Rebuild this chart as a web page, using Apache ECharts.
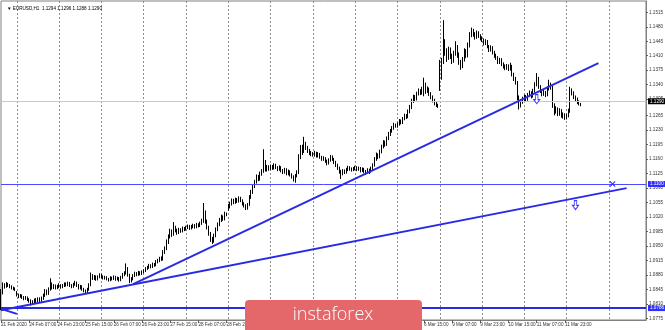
<!DOCTYPE html>
<html><head><meta charset="utf-8">
<script src="https://cdn.jsdelivr.net/npm/echarts@6/dist/echarts.min.js"></script>
<style>html,body{margin:0;padding:0;background:#fff}#c{width:665px;height:330px}</style>
</head><body><div id="c"></div>
<script>
// EURUSD H1, one bar per hour from 21 Feb 2020 15:00 to 12 Mar 2020 08:00
const opens = [
1.0800,1.0838,1.0855,1.0852,1.0858,1.0855,1.0851,1.0849,1.0847,
1.0838,1.0832,1.0828,1.0830,1.0826,1.0823,1.0825,1.0821,1.0818,1.0812,1.0815,1.0819,1.0816,1.0822,1.0818,1.0824,1.0830,1.0840,1.0836,1.0845,1.0858,1.0850,1.0853,1.0849,
1.0852,1.0855,1.0851,1.0854,1.0858,1.0856,1.0860,1.0855,1.0852,1.0857,1.0861,1.0855,1.0849,1.0852,1.0846,1.0842,1.0838,1.0845,1.0856,1.0878,1.0872,1.0876,1.0870,1.0875,
1.0879,1.0876,1.0872,1.0874,1.0870,1.0868,1.0873,1.0871,1.0875,1.0870,1.0872,1.0868,1.0874,1.0880,1.0884,1.0896,1.0880,1.0866,1.0870,1.0878,1.0884,1.0881,1.0886,1.0883,
1.0887,1.0890,1.0895,1.0898,1.0903,1.0900,1.0906,1.0904,1.0912,1.0915,1.0920,1.0918,1.0935,1.0943,1.0960,1.0972,1.0985,1.0978,1.0995,1.0988,1.0982,1.0990,1.0986,1.0993,
1.0990,1.0995,1.0998,1.0993,1.0997,1.1000,1.0996,1.1002,1.0999,1.1005,1.1010,1.1030,1.1010,1.0995,1.0980,1.0968,1.0962,1.0975,1.0990,1.1002,1.1012,1.1020,1.1015,1.1028,
1.1040,1.1045,1.1052,1.1060,1.1055,1.1062,1.1058,1.1066,1.1060,1.1052,1.1048,1.1042,1.1050,1.1068,1.1080,1.1095,1.1105,1.1118,1.1112,1.1125,1.1130,1.1150,1.1135,1.1140,
1.1137,1.1142,1.1138,1.1145,1.1140,1.1135,1.1140,1.1132,1.1128,1.1135,1.1125,1.1130,1.1122,1.1118,1.1112,1.1120,1.1128,1.1165,1.1185,1.1178,1.1195,1.1188,1.1180,1.1175,
1.1172,1.1170,1.1175,1.1168,1.1172,1.1165,1.1160,1.1162,1.1155,1.1150,1.1158,1.1165,1.1160,1.1152,1.1145,1.1138,1.1130,1.1125,1.1132,1.1128,1.1135,1.1140,1.1136,1.1134,
1.1137,1.1140,1.1135,1.1138,1.1132,1.1136,1.1130,1.1128,1.1134,1.1130,1.1138,1.1145,1.1160,1.1170,1.1165,1.1178,1.1190,1.1200,1.1195,1.1210,1.1220,1.1228,1.1235,1.1242,
1.1240,1.1245,1.1252,1.1248,1.1258,1.1265,1.1262,1.1275,1.1285,1.1300,1.1310,1.1305,1.1318,1.1325,1.1320,1.1330,1.1340,1.1325,1.1330,1.1318,1.1310,1.1302,1.1295,1.1290,
1.1330,1.1360,1.1395,1.1440,1.1420,1.1405,1.1425,1.1410,1.1398,1.1415,1.1430,1.1412,1.1395,1.1385,1.1400,1.1420,1.1410,1.1435,1.1460,1.1470,1.1462,1.1455,1.1465,1.1458,
1.1452,1.1448,1.1440,1.1445,1.1432,1.1425,1.1430,1.1418,1.1410,1.1405,1.1395,1.1400,1.1390,1.1385,1.1380,1.1385,1.1378,1.1385,1.1365,1.1355,1.1345,1.1310,1.1290,1.1298,
1.1305,1.1310,1.1305,1.1315,1.1320,1.1312,1.1325,1.1340,1.1355,1.1335,1.1325,1.1318,1.1322,1.1315,1.1330,1.1340,1.1335,1.1290,1.1275,1.1282,1.1270,1.1278,1.1265,1.1268,
1.1262,1.1265,1.1275,1.1325,1.1320,1.1310,1.1305,1.1298,1.1294
];
const closes = [
1.0838,1.0855,1.0852,1.0858,1.0855,1.0851,1.0849,1.0847,1.0844,
1.0832,1.0828,1.0830,1.0826,1.0823,1.0825,1.0821,1.0818,1.0812,1.0815,1.0819,1.0816,1.0822,1.0818,1.0824,1.0830,1.0840,1.0836,1.0845,1.0858,1.0850,1.0853,1.0849,1.0852,
1.0855,1.0851,1.0854,1.0858,1.0856,1.0860,1.0855,1.0852,1.0857,1.0861,1.0855,1.0849,1.0852,1.0846,1.0842,1.0838,1.0845,1.0856,1.0878,1.0872,1.0876,1.0870,1.0875,1.0879,
1.0876,1.0872,1.0874,1.0870,1.0868,1.0873,1.0871,1.0875,1.0870,1.0872,1.0868,1.0874,1.0880,1.0884,1.0896,1.0880,1.0866,1.0870,1.0878,1.0884,1.0881,1.0886,1.0883,1.0887,
1.0890,1.0895,1.0898,1.0903,1.0900,1.0906,1.0904,1.0912,1.0915,1.0920,1.0918,1.0935,1.0943,1.0960,1.0972,1.0985,1.0978,1.0995,1.0988,1.0982,1.0990,1.0986,1.0993,1.0990,
1.0995,1.0998,1.0993,1.0997,1.1000,1.0996,1.1002,1.0999,1.1005,1.1010,1.1030,1.1010,1.0995,1.0980,1.0968,1.0962,1.0975,1.0990,1.1002,1.1012,1.1020,1.1015,1.1028,1.1026,
1.1045,1.1052,1.1060,1.1055,1.1062,1.1058,1.1066,1.1060,1.1052,1.1048,1.1042,1.1050,1.1068,1.1080,1.1095,1.1105,1.1118,1.1112,1.1125,1.1130,1.1150,1.1135,1.1140,1.1137,
1.1142,1.1138,1.1145,1.1140,1.1135,1.1140,1.1132,1.1128,1.1135,1.1125,1.1130,1.1122,1.1118,1.1112,1.1120,1.1128,1.1165,1.1185,1.1178,1.1195,1.1188,1.1180,1.1175,1.1172,
1.1170,1.1175,1.1168,1.1172,1.1165,1.1160,1.1162,1.1155,1.1150,1.1158,1.1165,1.1160,1.1152,1.1145,1.1138,1.1130,1.1125,1.1132,1.1128,1.1135,1.1140,1.1136,1.1134,1.1137,
1.1140,1.1135,1.1138,1.1132,1.1136,1.1130,1.1128,1.1134,1.1130,1.1138,1.1145,1.1160,1.1170,1.1165,1.1178,1.1190,1.1200,1.1195,1.1210,1.1220,1.1228,1.1235,1.1242,1.1240,
1.1245,1.1252,1.1248,1.1258,1.1265,1.1262,1.1275,1.1285,1.1300,1.1310,1.1305,1.1318,1.1325,1.1320,1.1330,1.1340,1.1325,1.1330,1.1318,1.1310,1.1302,1.1295,1.1290,1.1288,
1.1360,1.1395,1.1440,1.1420,1.1405,1.1425,1.1410,1.1398,1.1415,1.1430,1.1412,1.1395,1.1385,1.1400,1.1420,1.1410,1.1435,1.1460,1.1470,1.1462,1.1455,1.1465,1.1458,1.1452,
1.1448,1.1440,1.1445,1.1432,1.1425,1.1430,1.1418,1.1410,1.1405,1.1395,1.1400,1.1390,1.1385,1.1380,1.1385,1.1378,1.1385,1.1365,1.1355,1.1345,1.1310,1.1290,1.1298,1.1305,
1.1310,1.1305,1.1315,1.1320,1.1312,1.1325,1.1340,1.1355,1.1335,1.1325,1.1318,1.1322,1.1315,1.1330,1.1340,1.1335,1.1290,1.1275,1.1282,1.1270,1.1278,1.1265,1.1268,1.1262,
1.1265,1.1275,1.1325,1.1320,1.1310,1.1305,1.1298,1.1294,1.1290
];
const lows = [
1.0795,1.0833,1.0847,1.0849,1.0851,1.0848,1.0845,1.0843,1.0841,
1.0828,1.0824,1.0825,1.0822,1.0819,1.0820,1.0817,1.0813,1.0806,1.0808,1.0811,1.0812,1.0813,1.0814,1.0815,1.0820,1.0827,1.0831,1.0832,1.0842,1.0845,1.0846,1.0845,1.0846,
1.0848,1.0847,1.0848,1.0851,1.0852,1.0853,1.0851,1.0848,1.0849,1.0854,1.0851,1.0845,1.0845,1.0842,1.0838,1.0834,1.0835,1.0842,1.0853,1.0868,1.0868,1.0866,1.0867,1.0872,
1.0872,1.0869,1.0869,1.0867,1.0864,1.0865,1.0867,1.0868,1.0866,1.0867,1.0864,1.0865,1.0871,1.0877,1.0881,1.0876,1.0860,1.0862,1.0867,1.0875,1.0877,1.0878,1.0879,1.0880,
1.0884,1.0887,1.0892,1.0895,1.0896,1.0897,1.0900,1.0901,1.0908,1.0911,1.0914,1.0915,1.0931,1.0940,1.0955,1.0968,1.0972,1.0975,1.0983,1.0977,1.0979,1.0982,1.0983,1.0986,
1.0987,1.0991,1.0989,1.0990,1.0993,1.0992,1.0993,1.0995,1.0996,1.1001,1.1006,1.1004,1.0990,1.0975,1.0960,1.0955,1.0958,1.0971,1.0986,1.0998,1.1008,1.1011,1.1012,1.1022,
1.1035,1.1041,1.1048,1.1051,1.1052,1.1054,1.1055,1.1056,1.1048,1.1043,1.1037,1.1038,1.1047,1.1064,1.1076,1.1090,1.1101,1.1107,1.1108,1.1120,1.1127,1.1130,1.1130,1.1132,
1.1133,1.1134,1.1135,1.1136,1.1131,1.1132,1.1128,1.1124,1.1125,1.1121,1.1121,1.1118,1.1113,1.1106,1.1103,1.1116,1.1124,1.1160,1.1170,1.1175,1.1182,1.1175,1.1170,1.1167,
1.1166,1.1166,1.1164,1.1164,1.1161,1.1156,1.1156,1.1151,1.1145,1.1147,1.1154,1.1156,1.1148,1.1141,1.1134,1.1125,1.1112,1.1121,1.1124,1.1125,1.1131,1.1132,1.1130,1.1131,
1.1133,1.1131,1.1132,1.1128,1.1129,1.1126,1.1122,1.1125,1.1124,1.1127,1.1134,1.1142,1.1156,1.1160,1.1162,1.1174,1.1186,1.1190,1.1192,1.1206,1.1216,1.1224,1.1231,1.1236,
1.1236,1.1241,1.1244,1.1245,1.1254,1.1257,1.1259,1.1271,1.1281,1.1296,1.1300,1.1302,1.1314,1.1315,1.1316,1.1312,1.1318,1.1320,1.1313,1.1305,1.1297,1.1290,1.1286,1.1284,
1.1325,1.1352,1.1390,1.1410,1.1395,1.1400,1.1402,1.1390,1.1393,1.1410,1.1405,1.1388,1.1376,1.1380,1.1396,1.1404,1.1406,1.1430,1.1455,1.1456,1.1449,1.1451,1.1453,1.1447,
1.1443,1.1435,1.1436,1.1428,1.1419,1.1420,1.1413,1.1405,1.1400,1.1390,1.1390,1.1385,1.1379,1.1375,1.1376,1.1373,1.1374,1.1360,1.1349,1.1340,1.1302,1.1280,1.1285,1.1294,
1.1300,1.1300,1.1301,1.1311,1.1307,1.1309,1.1321,1.1336,1.1330,1.1320,1.1312,1.1313,1.1310,1.1312,1.1326,1.1328,1.1284,1.1266,1.1270,1.1264,1.1265,1.1260,1.1258,1.1255,
1.1256,1.1261,1.1272,1.1314,1.1305,1.1300,1.1293,1.1290,1.1288
];
const highs = [
1.0846,1.0862,1.0860,1.0863,1.0861,1.0858,1.0855,1.0852,1.0850,
1.0841,1.0835,1.0834,1.0833,1.0829,1.0829,1.0828,1.0824,1.0821,1.0819,1.0823,1.0824,1.0826,1.0826,1.0828,1.0835,1.0846,1.0845,1.0850,1.0872,1.0862,1.0858,1.0857,1.0856,
1.0860,1.0858,1.0858,1.0862,1.0862,1.0864,1.0863,1.0858,1.0861,1.0866,1.0864,1.0858,1.0856,1.0855,1.0849,1.0845,1.0849,1.0860,1.0886,1.0882,1.0880,1.0879,1.0879,1.0884,
1.0883,1.0879,1.0878,1.0877,1.0873,1.0877,1.0876,1.0879,1.0878,1.0876,1.0875,1.0878,1.0885,1.0889,1.0908,1.0899,1.0883,1.0875,1.0882,1.0888,1.0887,1.0890,1.0889,1.0891,
1.0894,1.0899,1.0902,1.0907,1.0906,1.0910,1.0909,1.0916,1.0919,1.0924,1.0925,1.0940,1.0949,1.0966,1.0978,1.0992,1.0990,1.1008,1.0999,1.0992,1.0994,1.0993,1.0997,1.0996,
1.0999,1.1002,1.1001,1.1001,1.1004,1.1003,1.1006,1.1005,1.1009,1.1016,1.1054,1.1036,1.1014,1.0999,1.0984,1.0972,1.0980,1.0995,1.1007,1.1018,1.1026,1.1024,1.1033,1.1031,
1.1052,1.1057,1.1065,1.1064,1.1067,1.1066,1.1070,1.1069,1.1063,1.1056,1.1051,1.1054,1.1073,1.1086,1.1100,1.1110,1.1123,1.1122,1.1130,1.1136,1.1184,1.1158,1.1146,1.1145,
1.1147,1.1146,1.1150,1.1149,1.1143,1.1145,1.1143,1.1136,1.1139,1.1138,1.1135,1.1133,1.1126,1.1121,1.1124,1.1133,1.1172,1.1194,1.1195,1.1214,1.1202,1.1192,1.1185,1.1180,
1.1177,1.1180,1.1178,1.1177,1.1175,1.1168,1.1167,1.1165,1.1159,1.1162,1.1170,1.1169,1.1163,1.1156,1.1149,1.1142,1.1134,1.1136,1.1135,1.1139,1.1144,1.1143,1.1140,1.1141,
1.1144,1.1143,1.1142,1.1141,1.1140,1.1139,1.1134,1.1138,1.1137,1.1142,1.1150,1.1165,1.1176,1.1174,1.1183,1.1195,1.1206,1.1205,1.1215,1.1226,1.1233,1.1240,1.1248,1.1246,
1.1249,1.1257,1.1256,1.1262,1.1270,1.1269,1.1280,1.1291,1.1306,1.1316,1.1315,1.1323,1.1331,1.1329,1.1335,1.1357,1.1345,1.1336,1.1333,1.1322,1.1314,1.1306,1.1299,1.1294,
1.1400,1.1405,1.1496,1.1450,1.1428,1.1432,1.1430,1.1415,1.1422,1.1445,1.1436,1.1418,1.1400,1.1407,1.1428,1.1426,1.1442,1.1467,1.1478,1.1475,1.1467,1.1471,1.1469,1.1462,
1.1457,1.1452,1.1450,1.1448,1.1436,1.1435,1.1433,1.1422,1.1415,1.1409,1.1405,1.1404,1.1394,1.1389,1.1390,1.1389,1.1393,1.1388,1.1369,1.1359,1.1349,1.1314,1.1304,1.1311,
1.1316,1.1315,1.1320,1.1326,1.1324,1.1330,1.1346,1.1368,1.1359,1.1339,1.1329,1.1327,1.1325,1.1336,1.1352,1.1345,1.1338,1.1295,1.1288,1.1285,1.1283,1.1281,1.1273,1.1271,
1.1270,1.1282,1.1335,1.1331,1.1324,1.1314,1.1309,1.1302,1.1296
];
// time-axis labels, one every 16 bars starting at the first bar
const xTickLabels = ['21 Feb 2020','24 Feb 07:00','24 Feb 23:00','25 Feb 15:00','26 Feb 07:00','26 Feb 23:00','27 Feb 15:00','28 Feb 07:00','28 Feb 23:00','2 Mar 15:00','3 Mar 07:00','3 Mar 23:00','4 Mar 15:00','5 Mar 07:00','5 Mar 23:00','6 Mar 15:00','9 Mar 07:00','9 Mar 23:00','10 Mar 15:00','11 Mar 07:00','11 Mar 23:00'];
const labelEvery = 16;
const dayStartBar = 9;      // 24 Feb 00:00
const barsPerDay = 24;
const emptyBarsRight = 37;  // chart shift area
const yTickValues = [1.0775,1.0810,1.0845,1.0880,1.0915,1.0950,1.0985,1.1020,1.1055,1.1090,1.1125,1.1160,1.1195,1.1230,1.1265,1.1305,1.1340,1.1375,1.1410,1.1445,1.1480,1.1515];
const bidPrice = 1.1290;
const levelLines = [1.1100, 1.0786];
// trend lines: [barIndex, price] pairs
const trendLines = [
  [[0, 1.0795], [355, 1.1090]],
  [[75, 1.0858], [339, 1.1392]],
  [[0, 1.0798], [9, 1.0786]]
];
const downArrows = [[304, 1.1305], [326, 1.1049]];
const crossMarks = [[347, 1.1100]];
const titleText = 'EURUSD,H1  1.1294 1.1296 1.1288 1.1290';

const categories = [];
for (let i = 0; i < opens.length + emptyBarsRight; i++) categories.push(String(i));
const candles = opens.map((o, i) => [o, closes[i], lows[i], highs[i]]);

const BLUE = '#2a2ae6';
const FONT = 'Liberation Sans';
const arrowPath = 'path://M3,0 L7,0 L7,6 L10,6 L5,11 L0,6 L3,6 Z';
const crossPath = 'path://M0,1 L1,0 L4,3 L7,0 L8,1 L5,4 L8,7 L7,8 L4,5 L1,8 L0,7 L3,4 Z';

const markLineData = [];
markLineData.push({yAxis: bidPrice, lineStyle:{color:'#c8c8c8', width:1, type:'solid'},
  label:{show:true, position:'end', distance:2, formatter: bidPrice.toFixed(4), backgroundColor:'#000', color:'#fff', fontSize:4.6, fontFamily:FONT, padding:[1,2,0,2]}});
levelLines.forEach((v, k) => markLineData.push({yAxis: v, lineStyle:{color: k === 0 ? '#4a4aff' : BLUE, width: k === 0 ? 1 : 2, type:'solid'},
  label:{show:true, position:'end', distance:2, formatter: v.toFixed(4), backgroundColor:'#2f2fff', color:'#fff', fontSize:4.6, fontFamily:FONT, padding:[1,2,0,2]}}));
trendLines.forEach(t => markLineData.push([
  {coord: t[0], lineStyle:{color: BLUE, width:2, type:'solid'}, label:{show:false}},
  {coord: t[1]}
]));

const markPointData = [];
downArrows.forEach(a => markPointData.push({coord: a, symbol: arrowPath, symbolSize:[6,9], itemStyle:{color:'#ffffff', borderColor:'#3a3aff', borderWidth:1}}));
crossMarks.forEach(a => markPointData.push({coord: a, symbol: crossPath, symbolSize:[6,6], itemStyle:{color:'#2a2aff'}}));

const chart = echarts.init(document.getElementById('c'), null, {renderer:'canvas'});
chart.setOption({
  animation: false,
  backgroundColor: '#ffffff',
  title: {text: '\u25BC ' + titleText, left: 2, top: 1, textStyle:{fontSize:4.6, fontWeight:'normal', color:'#000', fontFamily:FONT}},
  grid: {left: 1, right: 19, top: 1, bottom: 10, containLabel: false, outerBoundsMode: 'none',
    show: true, borderColor: '#808080', borderWidth: 1, backgroundColor:'#fff'},
  xAxis: {
    type: 'category', data: categories, boundaryGap: false,
    axisLine: {show: true, onZero:false, lineStyle: {color: '#808080', width: 1}},
    axisTick: {show: true, length: 3, interval: i => i % labelEvery === 0 && i < opens.length, lineStyle: {color: '#606060'}},
    axisLabel: {show: true, interval: i => i % labelEvery === 0 && i < opens.length,
      formatter: (v, i) => (i % labelEvery === 0 && xTickLabels[i / labelEvery]) ? xTickLabels[i / labelEvery] : '',
      align: 'left', fontSize: 4.6, color: '#333', margin: 2, fontFamily: FONT, hideOverlap:false},
    splitLine: {show: true, interval: i => i >= dayStartBar && (i - dayStartBar) % barsPerDay === 0,
      lineStyle: {color: '#8c8c8c', width: 1, type: [2, 2]}}
  },
  yAxis: {
    type: 'value', position: 'right', min: 1.07712, max: 1.15423, scale: true,
    axisLine: {show: true, lineStyle: {color: '#808080'}},
    axisTick: {show: true, length: 2, customValues: yTickValues, lineStyle: {color: '#606060'}},
    axisLabel: {show: true, customValues: yTickValues, formatter: v => v.toFixed(4), fontSize: 4.6, color: '#333', margin: 3, fontFamily: FONT},
    splitLine: {show: false}
  },
  series: [{
    type: 'candlestick', data: candles, barWidth: 1.2,
    itemStyle: {color: '#ffffff', color0: '#000000', borderColor: '#000000', borderColor0: '#000000', borderWidth: 1},
    markLine: {symbol: ['none', 'none'], silent: true, animation:false, data: markLineData},
    markPoint: {silent: true, label:{show:false}, animation:false, data: markPointData}
  }],
  graphic: [
    {type: 'rect', z: 100, shape: {x: 245, y: 300, width: 177, height: 34, r: [4, 4, 0, 0]}, style: {fill: '#e4686a'}},
    {type: 'text', z: 101, x: 333, y: 315, style: {text: 'instaforex', fill: '#ffffff', font: '300 18px "Open Sans"', align: 'center', verticalAlign: 'middle'}}
  ]
});
</script></body></html>
